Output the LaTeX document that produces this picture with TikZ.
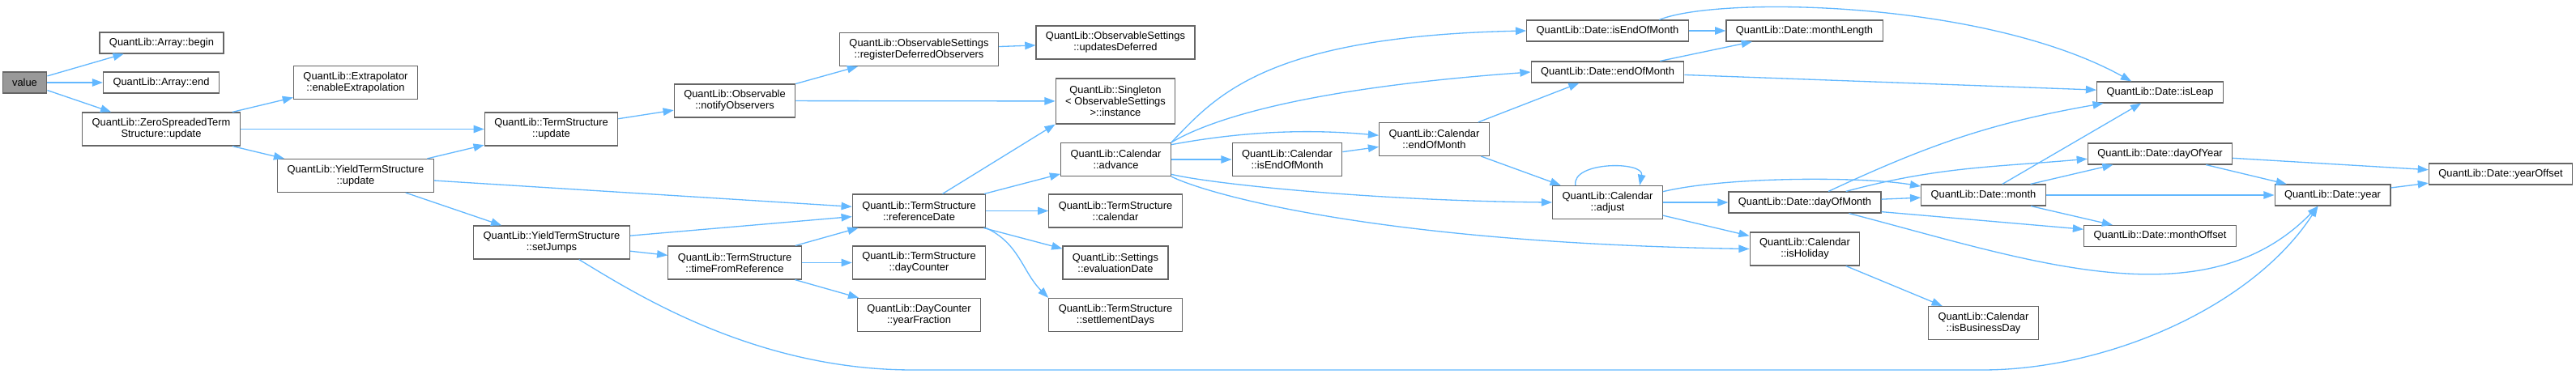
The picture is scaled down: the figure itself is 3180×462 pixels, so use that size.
\documentclass[tikz,border=0pt]{standalone}
\usepackage{fontspec}
\setmainfont{Liberation Sans}
\usetikzlibrary{arrows.meta}
\definecolor{edgeblue}{HTML}{63B8FF}
\definecolor{boxgrey}{HTML}{666666}
\definecolor{valgrey}{HTML}{999999}

\begin{document}
\begin{tikzpicture}[x=0.02cm,y=-0.02cm,
  fn/.style={draw=boxgrey,line width=0.65pt,fill=white,inner xsep=6.8pt,inner ysep=0pt,
    minimum height=0.52cm,align=center,font=\fontsize{7.34}{7.97}\selectfont},
  fn2/.style={fn,minimum height=0.82cm},
  fn3/.style={fn,minimum height=1.12cm},
  call/.style={draw=edgeblue,line width=0.75pt,-{Triangle[length=7.5pt,width=5.4pt]}}]
 \useasboundingbox (0,0) rectangle (3180,462);
 % functions
 \node[fn,fill=valgrey] (value) at (30.5,102) {value};
 \node[fn] (begin) at (199.5,53) {QuantLib::Array::begin};
 \node[fn] (end) at (199,102) {QuantLib::Array::end};
 \node[fn2] (zst) at (199,159.5) {QuantLib::ZeroSpreadedTerm\\Structure::update};
 \node[fn2] (extrap) at (439,102) {QuantLib::Extrapolator\\::enableExtrapolation};
 \node[fn2] (tsupd) at (680.5,159.5) {QuantLib::TermStructure\\::update};
 \node[fn2] (ytsupd) at (439,217) {QuantLib::YieldTermStructure\\::update};
 \node[fn2] (setjumps) at (681,299.5) {QuantLib::YieldTermStructure\\::setJumps};
 \node[fn2] (notify) at (907,124.5) {QuantLib::Observable\\::notifyObservers};
 \node[fn2] (regdef) at (1134.5,61) {QuantLib::ObservableSettings\\::registerDeferredObservers};
 \node[fn2] (upddef) at (1377,52.5) {QuantLib::ObservableSettings\\::updatesDeferred};
 \node[fn3] (singleton) at (1377,125) {QuantLib::Singleton\\< ObservableSettings\\>::instance};
 \node[fn2] (advance) at (1377.5,197) {QuantLib::Calendar\\::advance};
 \node[fn2] (refdate) at (1134.5,260.5) {QuantLib::TermStructure\\::referenceDate};
 \node[fn2] (tscal) at (1377,260.5) {QuantLib::TermStructure\\::calendar};
 \node[fn2] (timeref) at (907,324.5) {QuantLib::TermStructure\\::timeFromReference};
 \node[fn2] (daycnt) at (1134.5,324.5) {QuantLib::TermStructure\\::dayCounter};
 \node[fn2] (evaldate) at (1377,324.5) {QuantLib::Settings\\::evaluationDate};
 \node[fn2] (yearfrac) at (1134.5,389) {QuantLib::DayCounter\\::yearFraction};
 \node[fn2] (settle) at (1377,389) {QuantLib::TermStructure\\::settlementDays};
 \node[fn2] (calisend) at (1589,197) {QuantLib::Calendar\\::isEndOfMonth};
 \node[fn2] (calendm) at (1770.5,172) {QuantLib::Calendar\\::endOfMonth};
 \node[fn] (dateisend) at (1984.5,38) {QuantLib::Date::isEndOfMonth};
 \node[fn] (monthlen) at (2227.5,38) {QuantLib::Date::monthLength};
 \node[fn] (dateendm) at (1984.5,89) {QuantLib::Date::endOfMonth};
 \node[fn2] (adjust) at (1984.5,250) {QuantLib::Calendar\\::adjust};
 \node[fn] (dayofmonth) at (2228,250) {QuantLib::Date::dayOfMonth};
 \node[fn2] (isholiday) at (2228,307.5) {QuantLib::Calendar\\::isHoliday};
 \node[fn2] (isbizday) at (2448.5,399) {QuantLib::Calendar\\::isBusinessDay};
 \node[fn] (isleap) at (2666.5,114) {QuantLib::Date::isLeap};
 \node[fn] (dayofyear) at (2666.5,190) {QuantLib::Date::dayOfYear};
 \node[fn] (month) at (2448.5,241) {QuantLib::Date::month};
 \node[fn] (monthoff) at (2666.5,291.5) {QuantLib::Date::monthOffset};
 \node[fn] (year) at (2879.5,241) {QuantLib::Date::year};
 \node[fn] (yearoff) at (3087,215) {QuantLib::Date::yearOffset};
 % calls
 \draw[call] (value) -- (begin);
 \draw[call] (value) -- (end);
 \draw[call] (value) -- (zst);
 \draw[call] (zst) -- (extrap);
 \draw[call] (zst) -- (tsupd);
 \draw[call] (zst) -- (ytsupd);
 \draw[call] (tsupd) -- (notify);
 \draw[call] (ytsupd) -- (tsupd);
 \draw[call] (ytsupd) -- (refdate);
 \draw[call] (ytsupd) -- (setjumps);
 \draw[call] (setjumps) -- (refdate);
 \draw[call] (setjumps) -- (timeref);
 \draw[call] (setjumps.-32) .. controls (780,360) and (930,457) .. (1127,457)
   -- (2447,457) .. controls (2600,457) and (2780,380) .. (year.-143);
 \draw[call] (notify) -- (regdef);
 \draw[call] (notify) -- (singleton);
 \draw[call] (regdef) -- (upddef);
 \draw[call] (refdate.36) -- (singleton.south west);
 \draw[call] (refdate) -- (advance);
 \draw[call] (refdate) -- (tscal);
 \draw[call] (refdate) -- (evaldate);
 \draw[call] (refdate.south east) to[out=-25,in=135] (settle.north west);
 \draw[call] (timeref) -- (refdate);
 \draw[call] (timeref) -- (daycnt);
 \draw[call] (timeref) -- (yearfrac);
 \draw[call] (advance.north east) .. controls (1500,120) and (1560,45) .. (dateisend.west);
 \draw[call] (advance.north east) .. controls (1490,150) and (1600,110) .. (dateendm.west);
 \draw[call] (advance.15) .. controls (1520,165) and (1600,158) .. (calendm.176);
 \draw[call] (advance) -- (calisend);
 \draw[call] (advance.-15) .. controls (1500,228) and (1700,248) .. (adjust.west);
 \draw[call] (advance.south east) .. controls (1490,240) and (1700,300) .. (isholiday.west);
 \draw[call] (calisend) -- (calendm);
 \draw[call] (calendm) -- (dateendm);
 \draw[call] (calendm) -- (adjust);
 \draw[call] (dateisend) -- (monthlen);
 \draw[call] (dateisend.12) .. controls (2120,-5) and (2450,0) .. (isleap.159);
 \draw[call] (dateendm) -- (monthlen);
 \draw[call] (dateendm) -- (isleap);
 \draw[call] (adjust.152) .. controls (1940,199) and (2030,199) .. (adjust.28);
 \draw[call] (adjust.11) .. controls (2130,218) and (2300,218) .. (month.172);
 \draw[call] (adjust) -- (dayofmonth);
 \draw[call] (adjust) -- (isholiday);
 \draw[call] (dayofmonth.25) to[out=25,in=190] (isleap.-169);
 \draw[call] (dayofmonth.15) to[out=15,in=-175] (dayofyear.-176);
 \draw[call] (dayofmonth) -- (month);
 \draw[call] (dayofmonth.-7) -- (monthoff.175);
 \draw[call] (dayofmonth.-14) .. controls (2500,320) and (2720,400) .. (year.-143);
 \draw[call] (month) -- (isleap);
 \draw[call] (month) -- (dayofyear);
 \draw[call] (month) -- (year);
 \draw[call] (month) -- (monthoff);
 \draw[call] (dayofyear) -- (yearoff);
 \draw[call] (dayofyear) -- (year);
 \draw[call] (year) -- (yearoff);
 \draw[call] (isholiday) -- (isbizday);
\end{tikzpicture}
\end{document}
